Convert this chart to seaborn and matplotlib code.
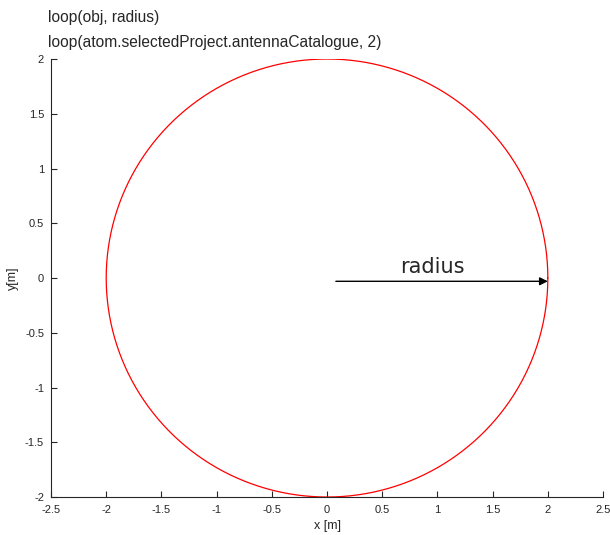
import numpy as np
import pandas as pd
import matplotlib
matplotlib.use('Agg')
import matplotlib.pyplot as plt
import seaborn as sns

# loop data
radius = 2.0
center_x = 0.0
center_y = 0.0
n_points = 361

title_lines = ['loop(obj, radius)', 'loop(atom.selectedProject.antennaCatalogue, 2)']
x_ticks = [-2.5, -2, -1.5, -1, -0.5, 0, 0.5, 1, 1.5, 2, 2.5]
y_ticks = [-2, -1.5, -1, -0.5, 0, 0.5, 1, 1.5, 2]
arrow_start = (0.08, -0.03)
arrow_end = (2.0, -0.03)
arrow_label_pos = (0.95, 0.1)

theta = np.linspace(0, 2 * np.pi, n_points)
df = pd.DataFrame({'x': center_x + radius * np.cos(theta),
                   'y': center_y + radius * np.sin(theta)})

sns.set_style('ticks')
plt.rcParams['font.family'] = ['Liberation Sans', 'DejaVu Sans']

fig = plt.figure(figsize=(6.1, 5.35), dpi=100)
ax = fig.add_axes([0.0836, 0.071, 0.905, 0.8187])

sns.lineplot(data=df, x='x', y='y', sort=False, estimator=None, color='#ff0000',
             linewidth=0.9, ax=ax)

ax.annotate('', xy=arrow_end, xytext=arrow_start,
            arrowprops=dict(arrowstyle='-|>', color='black', lw=1.0, mutation_scale=12,
                            shrinkA=0, shrinkB=0))
ax.text(arrow_label_pos[0], arrow_label_pos[1], 'radius', fontsize=15,
        family='DejaVu Sans', ha='center', va='center')

ax.set_xlim(-2.5, 2.5)
ax.set_ylim(-2, 2)
ax.set_xticks(x_ticks)
ax.set_yticks(y_ticks)
ax.set_xticklabels([f'{t:g}' for t in x_ticks])
ax.set_yticklabels([f'{t:g}' for t in y_ticks])
ax.tick_params(direction='in', length=4, width=0.8, labelsize=8, colors='#262626')
ax.tick_params(axis='x', pad=6)
ax.tick_params(axis='y', pad=5)
ax.set_xlabel('x [m]', fontsize=9, labelpad=3)
ax.set_ylabel('y[m]', fontsize=9)
sns.despine(ax=ax)
for s in ['left', 'bottom']:
    ax.spines[s].set_linewidth(0.8)
    ax.spines[s].set_color('#262626')

fig.text(0.079, 0.968, title_lines[0], fontsize=11.2, va='center', ha='left')
fig.text(0.079, 0.921, title_lines[1], fontsize=11.2, va='center', ha='left')

fig.savefig('out.png', dpi=100)
